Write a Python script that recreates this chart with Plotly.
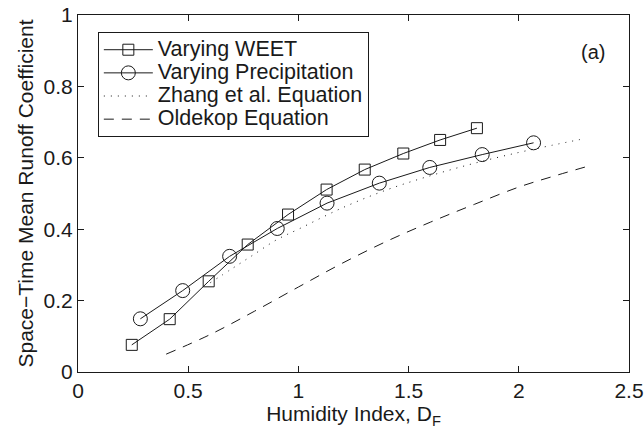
import plotly.graph_objects as go

# Data
weet_x = [0.244, 0.416, 0.593, 0.770, 0.953, 1.128, 1.301, 1.476, 1.643, 1.810]
weet_y = [0.076, 0.148, 0.254, 0.357, 0.441, 0.511, 0.567, 0.612, 0.650, 0.683]

prec_x = [0.283, 0.475, 0.688, 0.904, 1.130, 1.367, 1.596, 1.834, 2.067]
prec_y = [0.149, 0.228, 0.324, 0.402, 0.473, 0.529, 0.573, 0.609, 0.642]

zhang_x = [0.6, 0.7, 0.8, 0.9, 1.0, 1.2, 1.4, 1.6, 1.8, 2.0, 2.15, 2.3]
zhang_y = [0.25, 0.29, 0.33, 0.37, 0.40, 0.46, 0.51, 0.55, 0.585, 0.615, 0.635, 0.654]

olde_x = [0.4, 0.6, 0.8, 1.0, 1.2, 1.4, 1.6, 1.8, 2.0, 2.15, 2.3]
olde_y = [0.05, 0.105, 0.17, 0.238, 0.305, 0.366, 0.42, 0.47, 0.518, 0.547, 0.574]

x_ticks = [0, 0.5, 1, 1.5, 2, 2.5]
x_tick_labels = ["0", "0.5", "1", "1.5", "2", "2.5"]
y_ticks = [0, 0.2, 0.4, 0.6, 0.8, 1]
y_tick_labels = ["0", "0.2", "0.4", "0.6", "0.8", "1"]

series_names = ["Varying WEET", "Varying Precipitation",
                "Zhang et al. Equation", "Oldekop Equation"]

FONT = "Liberation Sans, Arial, Helvetica, sans-serif"
INK = "#1a1a1a"


def big(name):
    return '<span style="font-size:21.5px">' + name + "</span>"


fig = go.Figure()
fig.add_trace(go.Scatter(
    x=weet_x, y=weet_y, mode="lines+markers", name=big(series_names[0]),
    line=dict(color=INK, width=1),
    marker=dict(symbol="square-open", size=11, color=INK, line=dict(width=1)),
))
fig.add_trace(go.Scatter(
    x=prec_x, y=prec_y, mode="lines+markers", name=big(series_names[1]),
    line=dict(color=INK, width=1),
    marker=dict(symbol="circle-open", size=14, color=INK, line=dict(width=1)),
))
fig.add_trace(go.Scatter(
    x=zhang_x, y=zhang_y, mode="lines", name=big(series_names[2]),
    line=dict(color=INK, width=1, dash="1px,6px", shape="spline"),
))
fig.add_trace(go.Scatter(
    x=olde_x, y=olde_y, mode="lines", name=big(series_names[3]),
    line=dict(color=INK, width=1, dash="10px,8px", shape="spline"),
))

fig.add_annotation(x=2.337, y=0.896, text="(a)", showarrow=False,
                   font=dict(family=FONT, size=20, color=INK))

axis_common = dict(
    showline=True, linecolor=INK, linewidth=1, mirror="ticks",
    ticks="inside", ticklen=6, tickcolor=INK, showgrid=False, zeroline=False,
    tickfont=dict(family=FONT, size=21, color=INK), automargin=False,
)

fig.update_xaxes(range=[0, 2.5], tickvals=x_ticks, ticktext=x_tick_labels,
                 title=dict(text="Humidity Index, D<sub>F</sub>",
                            font=dict(family=FONT, size=21, color=INK), standoff=2),
                 **axis_common)
fig.update_yaxes(range=[0, 1], tickvals=y_ticks, ticktext=y_tick_labels,
                 title=dict(text="Space\u2212Time Mean Runoff Coefficient",
                            font=dict(family=FONT, size=21, color=INK), standoff=4),
                 **axis_common)

fig.update_layout(
    width=644, height=433,
    margin=dict(l=78, r=15, t=15, b=61),
    paper_bgcolor="white", plot_bgcolor="white",
    showlegend=True,
    legend=dict(x=0.036, y=0.952, xanchor="left", yanchor="top",
                bgcolor="white", bordercolor=INK, borderwidth=1,
                font=dict(family=FONT, size=15.5, color=INK),
                itemwidth=49, tracegroupgap=0),
)

fig.write_html("out.html")
